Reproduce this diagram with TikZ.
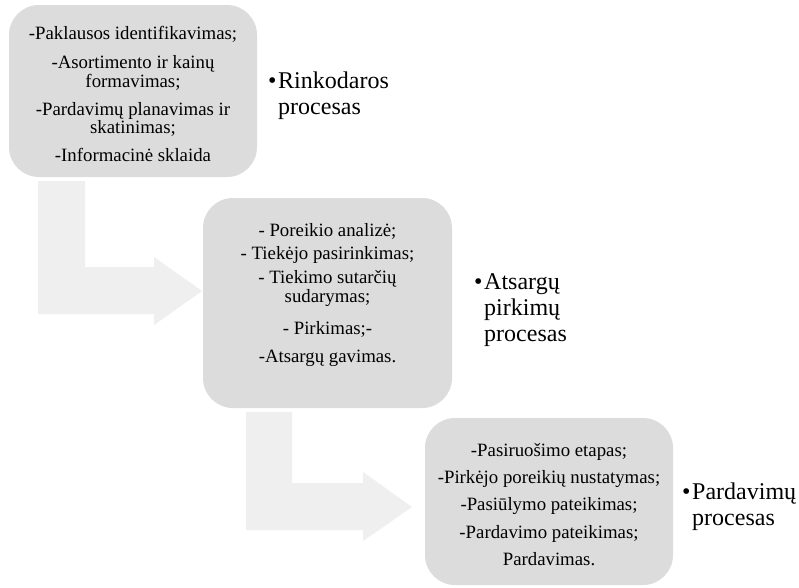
\documentclass[tikz,border=0pt]{standalone}
\usepackage{fontspec}
\setmainfont{Liberation Serif}
\definecolor{boxgray}{RGB}{220,220,220}
\definecolor{arrowgray}{RGB}{239,239,239}
\newcommand\boxlines[1]{\begin{tabular}[t]{@{}c@{}}#1\end{tabular}}
\newcommand\proclabel[1]{\makebox[10pt][l]{\textbullet}\begin{tabular}[t]{@{}l@{}}#1\end{tabular}}
\tikzset{
  procbox/.style={rectangle, rounded corners=30pt, fill=boxgray, draw=none, inner sep=0pt},
  boxtext/.style={inner sep=0pt, anchor=base, font=\fontsize{18.8}{18}\selectfont},
  labeltext/.style={inner sep=0pt, anchor=base west, font=\fontsize{24}{26}\selectfont},
  bentarrow/.style={fill=arrowgray, draw=none}
}
\begin{document}
\begin{tikzpicture}[x=1pt,y=-1pt]
\useasboundingbox[fill=white] (0,0) rectangle (799,587);
% bent arrows
\fill[bentarrow] (38,181) -- (85,181) -- (85,267) -- (154,267) -- (154,257) -- (202,291) -- (154,325) -- (154,314) -- (38,314) -- cycle;
\fill[bentarrow] (246,412) -- (292,412) -- (292,483) -- (363,483) -- (363,472) -- (412,507) -- (363,541) -- (363,530) -- (246,530) -- cycle;
% boxes
\node[procbox, minimum width=248pt, minimum height=172pt] (b1) at (133,91) {};
\node[procbox, minimum width=249pt, minimum height=210pt] (b2) at (327.5,303) {};
\node[procbox, minimum width=248pt, minimum height=167pt] (b3) at (549,501.5) {};
% box texts
\node[boxtext] (t1) at (133,39) {\boxlines{-Paklausos identifikavimas;\\[11pt]
-Asortimento ir kainų\\
formavimas;\\[9.5pt]
-Pardavimų planavimas ir\\
skatinimas;\\[9pt]
-Informacinė sklaida}};
\node[boxtext] (t2) at (327.5,236) {\boxlines{- Poreikio analizė;\\[5pt]
- Tiekėjo pasirinkimas;\\[6pt]
- Tiekimo sutarčių\\
sudarymas;\\[14pt]
- Pirkimas;-\\[10pt]
-Atsargų gavimas.}};
\node[boxtext] (t3) at (549,456) {\boxlines{-Pasiruošimo etapas;\\[9pt]
-Pirkėjo poreikių nustatymas;\\[9pt]
-Pasiūlymo pateikimas;\\[9pt]
-Pardavimo pateikimas;\\[9pt]
Pardavimas.}};
% labels
\node[labeltext] (l1) at (268,88) {\proclabel{Rinkodaros\\procesas}};
\node[labeltext] (l2) at (474,289) {\proclabel{Atsargų\\pirkimų\\procesas}};
\node[labeltext] (l3) at (682,499) {\proclabel{Pardavimų\\procesas}};
\end{tikzpicture}
\end{document}
